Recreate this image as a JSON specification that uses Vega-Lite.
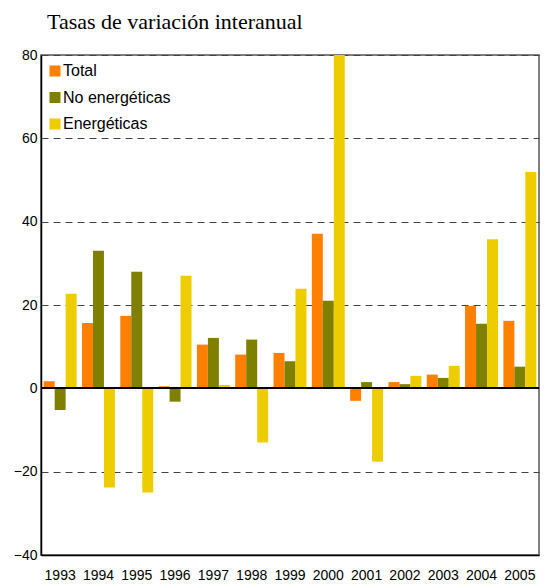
{
  "$schema": "https://vega.github.io/schema/vega-lite/v6.json",
  "autosize": {"type": "none"},
  "padding": {"left": 41, "top": 55, "right": 6, "bottom": 32},
  "width": 498,
  "height": 500,
  "background": "white",
  "title": {
    "text": "Tasas de variación interanual",
    "anchor": "start",
    "frame": "group",
    "dx": 6,
    "dy": 30,
    "offset": 27,
    "baseline": "alphabetic",
    "font": "Liberation Serif",
    "fontSize": 22,
    "fontWeight": "normal",
    "color": "#000000"
  },
  "config": {
    "view": {"stroke": "#555555", "strokeWidth": 1.5},
    "font": "Liberation Sans"
  },
  "data": {
    "values": [
      {"year": "1993", "serie": "Total", "value": 1.7},
      {"year": "1993", "serie": "No energéticas", "value": -5.2},
      {"year": "1993", "serie": "Energéticas", "value": 22.7},
      {"year": "1994", "serie": "Total", "value": 15.7},
      {"year": "1994", "serie": "No energéticas", "value": 33.0},
      {"year": "1994", "serie": "Energéticas", "value": -23.8},
      {"year": "1995", "serie": "Total", "value": 17.4},
      {"year": "1995", "serie": "No energéticas", "value": 28.0},
      {"year": "1995", "serie": "Energéticas", "value": -25.0},
      {"year": "1996", "serie": "Total", "value": 0.5},
      {"year": "1996", "serie": "No energéticas", "value": -3.2},
      {"year": "1996", "serie": "Energéticas", "value": 27.0},
      {"year": "1997", "serie": "Total", "value": 10.5},
      {"year": "1997", "serie": "No energéticas", "value": 12.1},
      {"year": "1997", "serie": "Energéticas", "value": 0.8},
      {"year": "1998", "serie": "Total", "value": 8.1},
      {"year": "1998", "serie": "No energéticas", "value": 11.7},
      {"year": "1998", "serie": "Energéticas", "value": -13.0},
      {"year": "1999", "serie": "Total", "value": 8.5},
      {"year": "1999", "serie": "No energéticas", "value": 6.5},
      {"year": "1999", "serie": "Energéticas", "value": 23.9},
      {"year": "2000", "serie": "Total", "value": 37.1},
      {"year": "2000", "serie": "No energéticas", "value": 21.0},
      {"year": "2000", "serie": "Energéticas", "value": 80.0},
      {"year": "2001", "serie": "Total", "value": -3.0},
      {"year": "2001", "serie": "No energéticas", "value": 1.5},
      {"year": "2001", "serie": "Energéticas", "value": -17.6},
      {"year": "2002", "serie": "Total", "value": 1.5},
      {"year": "2002", "serie": "No energéticas", "value": 1.0},
      {"year": "2002", "serie": "Energéticas", "value": 3.0},
      {"year": "2003", "serie": "Total", "value": 3.3},
      {"year": "2003", "serie": "No energéticas", "value": 2.5},
      {"year": "2003", "serie": "Energéticas", "value": 5.4},
      {"year": "2004", "serie": "Total", "value": 19.8},
      {"year": "2004", "serie": "No energéticas", "value": 15.5},
      {"year": "2004", "serie": "Energéticas", "value": 35.8},
      {"year": "2005", "serie": "Total", "value": 16.2},
      {"year": "2005", "serie": "No energéticas", "value": 5.2},
      {"year": "2005", "serie": "Energéticas", "value": 51.9}
    ]
  },
  "layer": [
    {
      "mark": {"type": "bar", "clip": true},
      "encoding": {
        "x": {
          "field": "year",
          "type": "nominal",
          "scale": {"paddingInner": 0.14, "paddingOuter": 0.07},
          "axis": {
            "title": null,
            "labelAngle": 0,
            "labelFontSize": 14,
            "labelColor": "#000000",
            "labelPadding": 13,
            "ticks": false,
            "domainColor": "#000000",
            "domainWidth": 1.5
          }
        },
        "xOffset": {"field": "serie", "type": "nominal", "sort": ["Total", "No energéticas", "Energéticas"]},
        "y": {
          "field": "value",
          "type": "quantitative",
          "scale": {"domain": [-40, 80], "nice": false},
          "axis": {
            "title": null,
            "values": [-40, -20, 0, 20, 40, 60, 80],
            "labelFontSize": 14,
            "labelColor": "#000000",
            "labelPadding": 4,
            "ticks": false,
            "domainColor": "#000000",
            "domainWidth": 1.5,
            "gridColor": "#444444",
            "gridDash": [7, 5],
            "gridWidth": 1.2
          }
        },
        "color": {
          "field": "serie",
          "type": "nominal",
          "sort": ["Total", "No energéticas", "Energéticas"],
          "scale": {"domain": ["Total", "No energéticas", "Energéticas"], "range": ["#FF8000", "#808000", "#EDCD00"]},
          "legend": {
            "title": null,
            "orient": "none",
            "legendX": 6,
            "legendY": 8,
            "symbolType": "square",
            "symbolSize": 121,
            "symbolStrokeWidth": 0,
            "labelFontSize": 16,
            "labelColor": "#000000",
            "labelOffset": 0,
            "rowPadding": 10.5
          }
        }
      }
    },
    {
      "mark": {"type": "rule", "color": "#000000", "strokeWidth": 1.5},
      "encoding": {"y": {"datum": 0}}
    }
  ]
}
